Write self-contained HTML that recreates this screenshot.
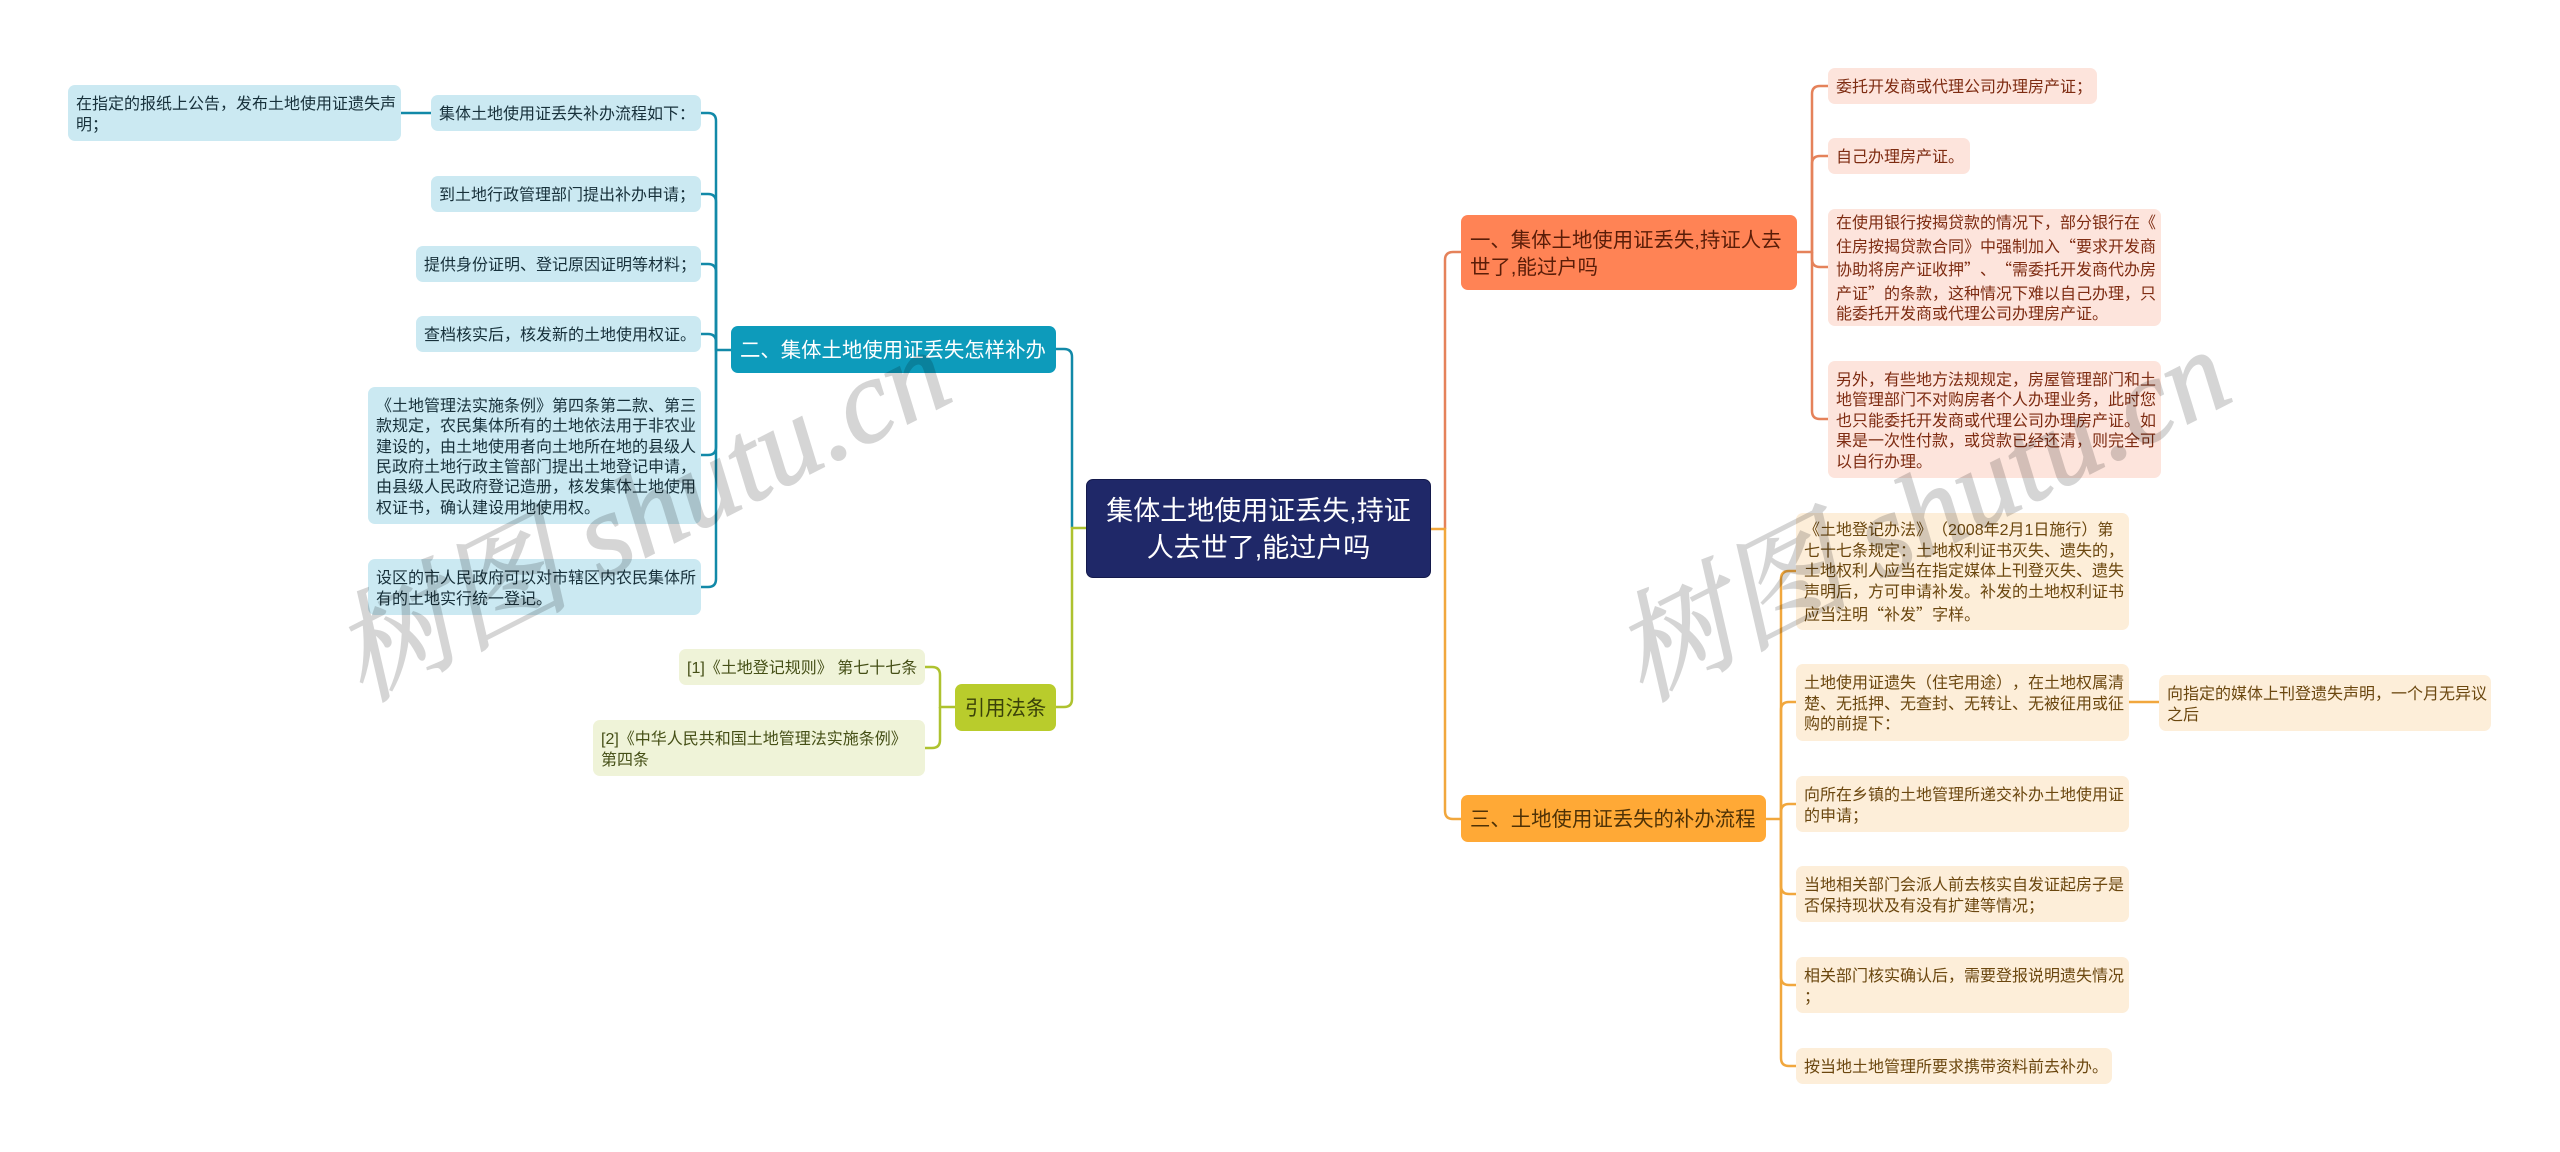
<!DOCTYPE html>
<html lang="zh-CN">
<head>
<meta charset="utf-8">
<title>集体土地使用证丢失,持证人去世了,能过户吗</title>
<style>
html,body{margin:0;padding:0;background:#fff;}
#c{position:relative;width:2560px;height:1152px;overflow:hidden;background:#fff;font-family:"Liberation Sans","Noto Sans CJK SC",sans-serif;}
.n{position:absolute;box-sizing:border-box;display:flex;align-items:center;border-radius:7px;font-size:16px;line-height:20.4px;padding:5px 8px 0;white-space:nowrap;text-spacing-trim:space-all;}
.q{font-family:"Noto Sans CJK SC",sans-serif;}
.b{background:#cbe9f2;color:#17303a;}
.p{background:#fde4dc;color:#7e2c12;}
.o{background:#fdeed9;color:#6b470f;}
.g{background:#eff3d8;color:#454f16;}
.big{font-size:20.4px;line-height:27px;padding:4px 9px 0;}
svg{position:absolute;left:0;top:0;}
</style>
</head>
<body>
<div id="c">
<svg width="2560" height="1152" fill="none" stroke-width="2.5">
<g stroke="#1289a8">
<path d="M401 113H431"/>
<path d="M701 113H708Q716 113 716 121V350H731"/>
<path d="M701 194H708Q716 194 716 202V350"/>
<path d="M701 264H708Q716 264 716 272V350"/>
<path d="M701 334H708Q716 334 716 342V350"/>
<path d="M701 455H708Q716 455 716 447V350"/>
<path d="M701 587H708Q716 587 716 579V350"/>
<path d="M1056 349H1064Q1072 349 1072 357V528"/>
</g>
<g stroke="#aec22f">
<path d="M925 667H932Q940 667 940 675V707H955"/>
<path d="M925 748H932Q940 748 940 740V707"/>
<path d="M1056 707H1064Q1072 707 1072 699V528H1086"/>
</g>
<g stroke="#e5825a">
<path d="M1461 252H1453Q1445 252 1445 260V529"/>
<path d="M1828 86H1820Q1812 86 1812 94V252H1797"/>
<path d="M1828 156H1820Q1812 156 1812 164V252"/>
<path d="M1828 267H1820Q1812 267 1812 259V252"/>
<path d="M1828 419H1820Q1812 419 1812 411V252"/>
</g>
<g stroke="#f1a73d">
<path d="M1461 819H1453Q1445 819 1445 811V529H1431"/>
<path d="M1796 571H1789Q1781 571 1781 579V819H1766"/>
<path d="M1796 702H1789Q1781 702 1781 710V819"/>
<path d="M1796 804H1789Q1781 804 1781 812V819"/>
<path d="M1796 894H1789Q1781 894 1781 886V819"/>
<path d="M1796 985H1789Q1781 985 1781 977V819"/>
<path d="M1796 1066H1789Q1781 1066 1781 1058V819"/>
<path d="M2129 702H2159"/>
</g>
</svg>

<div class="n" style="left:1086px;top:479px;width:345px;height:99px;background:#1f2868;border:1px solid #141a4c;color:#fff;font-size:27px;line-height:37px;padding:2px 0 0;justify-content:center;text-align:center;">集体土地使用证丢失,持证<br>人去世了,能过户吗</div>

<div class="n big" style="left:731px;top:326px;width:325px;height:47px;background:#0d9bbb;color:#fff;">二、集体土地使用证丢失怎样补办</div>
<div class="n b" style="left:68px;top:85px;width:333px;height:56px;">在指定的报纸上公告，发布土地使用证遗失声<br>明；</div>
<div class="n b" style="left:431px;top:95px;width:270px;height:36px;">集体土地使用证丢失补办流程如下：</div>
<div class="n b" style="left:431px;top:176px;width:270px;height:36px;">到土地行政管理部门提出补办申请；</div>
<div class="n b" style="left:416px;top:246px;width:285px;height:36px;">提供身份证明、登记原因证明等材料；</div>
<div class="n b" style="left:416px;top:316px;width:285px;height:36px;">查档核实后，核发新的土地使用权证。</div>
<div class="n b" style="left:368px;top:387px;width:333px;height:137px;">《土地管理法实施条例》第四条第二款、第三<br>款规定，农民集体所有的土地依法用于非农业<br>建设的，由土地使用者向土地所在地的县级人<br>民政府土地行政主管部门提出土地登记申请，<br>由县级人民政府登记造册，核发集体土地使用<br>权证书，确认建设用地使用权。</div>
<div class="n b" style="left:368px;top:559px;width:333px;height:56px;">设区的市人民政府可以对市辖区内农民集体所<br>有的土地实行统一登记。</div>

<div class="n big" style="left:955px;top:684px;width:101px;height:47px;background:#b9cc2c;color:#3a4209;justify-content:center;padding:4px 0 0;">引用法条</div>
<div class="n g" style="left:679px;top:649px;width:246px;height:36px;">[1]《土地登记规则》 第七十七条</div>
<div class="n g" style="left:593px;top:720px;width:332px;height:56px;">[2]《中华人民共和国土地管理法实施条例》<br>第四条</div>

<div class="n big" style="left:1461px;top:215px;width:336px;height:75px;background:#ff8355;color:#5a1d08;">一、集体土地使用证丢失,持证人去<br>世了,能过户吗</div>
<div class="n p" style="left:1828px;top:68px;width:269px;height:36px;">委托开发商或代理公司办理房产证；</div>
<div class="n p" style="left:1828px;top:138px;width:142px;height:36px;">自己办理房产证。</div>
<div class="n p" style="left:1828px;top:209px;width:333px;height:117px;"><span>在使用银行按揭贷款的情况下，部分银行在《<br>住房按揭贷款合同》中强制加入<span class="q">“</span>要求开发商<br>协助将房产证收押<span class="q">”、“</span>需委托开发商代办房<br>产证<span class="q">”</span>的条款，这种情况下难以自己办理，只<br>能委托开发商或代理公司办理房产证。</span></div>
<div class="n p" style="left:1828px;top:361px;width:333px;height:117px;">另外，有些地方法规规定，房屋管理部门和土<br>地管理部门不对购房者个人办理业务，此时您<br>也只能委托开发商或代理公司办理房产证。如<br>果是一次性付款，或贷款已经还清，则完全可<br>以自行办理。</div>

<div class="n big" style="left:1461px;top:795px;width:305px;height:47px;background:#ffa936;color:#4f3206;">三、土地使用证丢失的补办流程</div>
<div class="n o" style="left:1796px;top:513px;width:333px;height:117px;"><span>《土地登记办法》（2008年2月1日施行）第<br>七十七条规定：土地权利证书灭失、遗失的，<br>土地权利人应当在指定媒体上刊登灭失、遗失<br>声明后，方可申请补发。补发的土地权利证书<br>应当注明<span class="q">“</span>补发<span class="q">”</span>字样。</span></div>
<div class="n o" style="left:1796px;top:664px;width:333px;height:77px;">土地使用证遗失（住宅用途），在土地权属清<br>楚、无抵押、无查封、无转让、无被征用或征<br>购的前提下：</div>
<div class="n o" style="left:2159px;top:675px;width:332px;height:56px;">向指定的媒体上刊登遗失声明，一个月无异议<br>之后</div>
<div class="n o" style="left:1796px;top:776px;width:333px;height:56px;">向所在乡镇的土地管理所递交补办土地使用证<br>的申请；</div>
<div class="n o" style="left:1796px;top:866px;width:333px;height:56px;">当地相关部门会派人前去核实自发证起房子是<br>否保持现状及有没有扩建等情况；</div>
<div class="n o" style="left:1796px;top:957px;width:333px;height:56px;">相关部门核实确认后，需要登报说明遗失情况<br>；</div>
<div class="n o" style="left:1796px;top:1048px;width:316px;height:36px;">按当地土地管理所要求携带资料前去补办。</div>

<svg width="2560" height="1152" style="pointer-events:none">
<g font-family="'Liberation Serif','Noto Serif CJK SC',serif" font-style="italic" font-size="119" fill="#000" stroke="#000" stroke-width="1.5">
<text x="362" y="702" opacity="0.16" transform="rotate(-27 362 702)">树图 shutu.cn</text>
<text x="1642" y="702" opacity="0.16" transform="rotate(-27 1642 702)">树图 shutu.cn</text>
</g>
</svg>
</div>
</body>
</html>
